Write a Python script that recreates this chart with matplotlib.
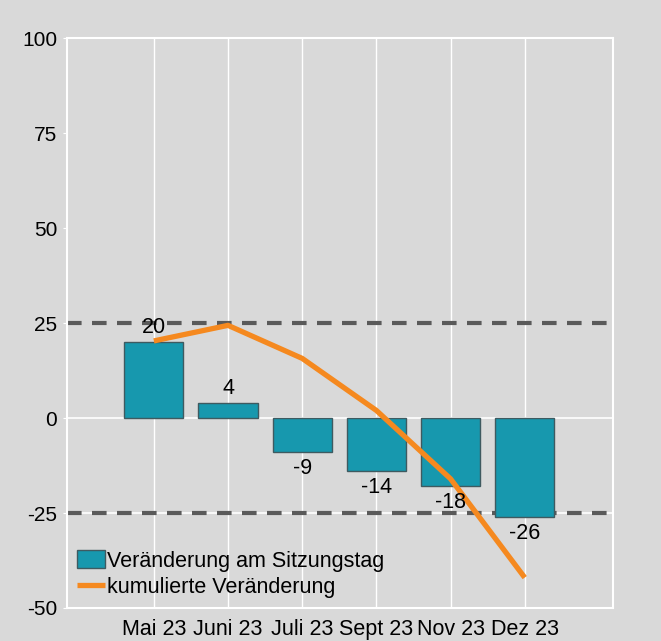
import matplotlib.pyplot as plt
import numpy as np

plt.rcParams['font.family'] = ['Liberation Sans', 'DejaVu Sans']

# data
months = ['Mai 23', 'Juni 23', 'Juli 23', 'Sept 23', 'Nov 23', 'Dez 23']
change = [20, 4, -9, -14, -18, -26]
cumulative = [20.3, 24.4, 15.7, 2.0, -16.0, -42.0]
y_ticks = [-50, -25, 0, 25, 50, 75, 100]

bg = '#d9d9d9'
teal = '#1798ae'
orange = '#f5891f'

fig = plt.figure(figsize=(6.61, 6.41), dpi=100, facecolor=bg)
ax = fig.add_axes([0.1014, 0.0515, 0.826, 0.889], facecolor=bg)

x = np.arange(len(months))

# white vertical grid at categories, white zero line
for xi in x:
    ax.axvline(xi, color='white', lw=1, zorder=0)
ax.axhline(0, color='white', lw=1.2, zorder=0)
ax.axhline(-25, color='white', lw=1.2, zorder=0)

ax.axhline(25, color='#5a5a5a', lw=3, ls=(0, (3.5, 2.5)), zorder=1)
ax.axhline(-25, color='#5a5a5a', lw=3, ls=(0, (3.5, 2.5)), zorder=1)

bars = ax.bar(x, change, width=0.8, color=teal, edgecolor='#3f5a60', lw=1,
              zorder=2, label='Veränderung am Sitzungstag')
line, = ax.plot(x, cumulative, color=orange, lw=3.8, zorder=3,
                solid_capstyle='butt', label='kumulierte Veränderung')

for xi, v in zip(x, change):
    if v >= 0:
        ax.text(xi, v + 1, str(v), ha='center', va='bottom', fontsize=15.5, zorder=4)
    else:
        ax.text(xi, v - 1.5, str(v), ha='center', va='top', fontsize=15.5, zorder=4)

ax.set_xlim(-1.17, 6.19)
ax.set_ylim(-50, 100)
ax.set_yticks(y_ticks)
ax.set_yticklabels([str(t) for t in y_ticks], fontsize=15)
ax.set_xticks(x)
ax.set_xticklabels(months, fontsize=15.5)
ax.tick_params(axis='y', colors='white', labelcolor='black', length=3, pad=4)
ax.tick_params(axis='x', length=0, pad=8, labelcolor='black')

for s in ax.spines.values():
    s.set_color('white')
    s.set_linewidth(1.5)

leg = ax.legend([bars, line], ['Veränderung am Sitzungstag', 'kumulierte Veränderung'],
                loc='lower left', bbox_to_anchor=(0.0, 0.0), frameon=False,
                fontsize=15.5, handlelength=1.3, handleheight=0.9, handletextpad=0.1,
                labelspacing=0.25, borderaxespad=0.3, borderpad=0.15)

fig.savefig('out.png', dpi=100, facecolor=bg)
